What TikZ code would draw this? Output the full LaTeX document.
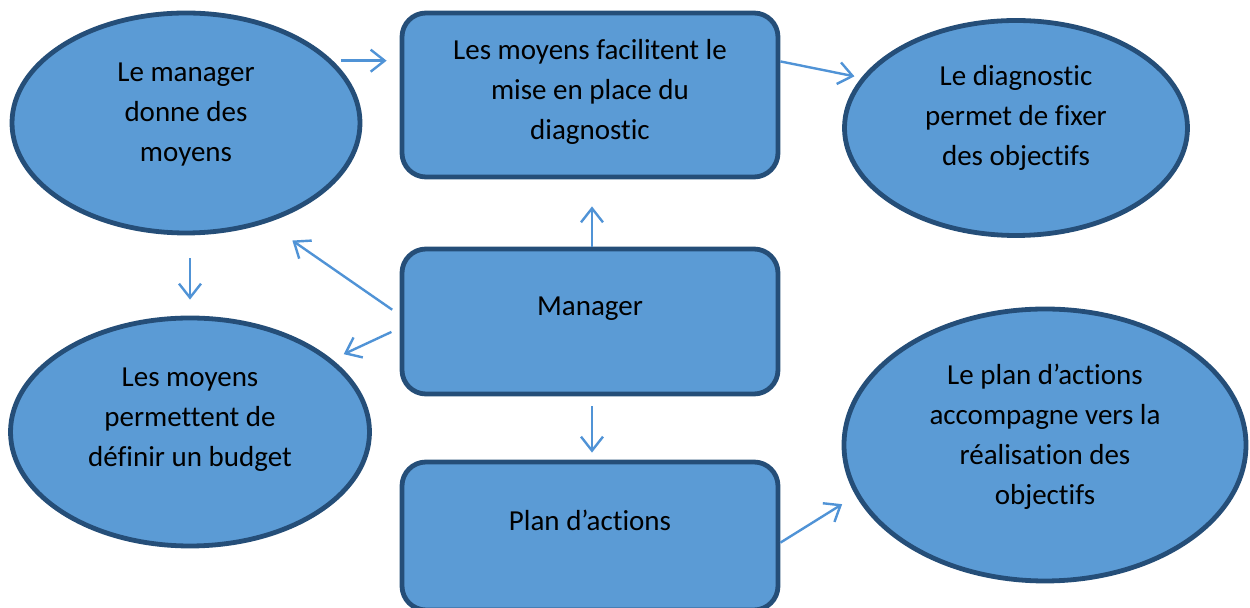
\documentclass[tikz,border=0pt]{standalone}
\usepackage{fontspec}
\setmainfont[RawFeature={-liga;-clig;-calt;-dlig}]{Carlito}
\usetikzlibrary{shapes.geometric,arrows.meta}

\definecolor{bleu}{HTML}{5B9BD5}
\definecolor{bordure}{HTML}{254E78}
\definecolor{trait}{HTML}{5093D6}

\tikzset{
  bulle/.style={ellipse, draw=bordure, fill=bleu, line width=2.4pt, inner sep=0pt},
  boite/.style={rectangle, rounded corners=12pt, draw=bordure, fill=bleu, line width=2.4pt,
                inner sep=0pt, minimum width=188pt},
  texte/.style={align=center, font=\fontsize{14.5}{20}\selectfont},
  lien/.style={draw=trait, line width=1.2pt, -{Straight Barb[length=7pt,width=11pt]}}
}

\begin{document}
\begin{tikzpicture}[x=0.5pt,y=-0.5pt]
    \useasboundingbox (0,0) rectangle (1250,608);

    % les formes
    \node[bulle, minimum width=174pt, minimum height=110pt,
          label={[texte,yshift=4pt]center:Le manager\\donne des\\moyens}] (moyens) at (186,123) {};
    \node[boite, minimum height=82pt,
          label={[texte,yshift=1.5pt]center:Les moyens facilitent le\\mise en place du\\diagnostic}] (facil) at (590,95) {};
    \node[bulle, minimum width=171.5pt, minimum height=107.5pt,
          label={[texte,yshift=5pt]center:Le diagnostic\\permet de fixer\\des objectifs}] (diag) at (1016,128) {};
    \node[boite, minimum height=72.5pt,
          label={[texte,yshift=6.5pt]center:Manager}] (manager) at (590,321.5) {};
    \node[bulle, minimum width=179.5pt, minimum height=114pt,
          label={[texte,yshift=6pt]center:Les moyens\\permettent de\\définir un budget}] (budget) at (190,432) {};
    \node[boite, minimum height=74pt,
          label={[texte,yshift=8pt]center:Plan d’actions}] (plan) at (590,536) {};
    \node[bulle, minimum width=201pt, minimum height=136pt,
          label={[texte,yshift=4pt]center:Le plan d’actions\\accompagne vers la\\réalisation des\\objectifs}] (real) at (1045,445) {};

    % les fleches
    \draw[lien, shorten <=4pt, shorten >=6.5pt] (moyens.23) -- (moyens.23 -| facil.west);
    \draw[lien, shorten >=3.5pt] (facil.10) -- (diag.162);
    \draw[lien, shorten >=13.5pt] (manager.north -| 592,0) -- (facil.south -| 592,0);
    \draw[lien, shorten <=4.5pt, shorten >=15.5pt] (manager.178) -- (moyens.309);
    \draw[lien, shorten <=4.5pt, shorten >=6.3pt] (manager.182) -- (budget.27);
    \draw[lien, shorten <=11.5pt, shorten >=8pt] (budget.north |- moyens.south) -- (budget.north);
    \draw[lien, shorten <=5pt, shorten >=3.5pt] (manager.south -| 592,0) -- (plan.north -| 592,0);
    \draw[lien, shorten >=8pt] (plan.-2) -- (real.195);
\end{tikzpicture}
\end{document}
